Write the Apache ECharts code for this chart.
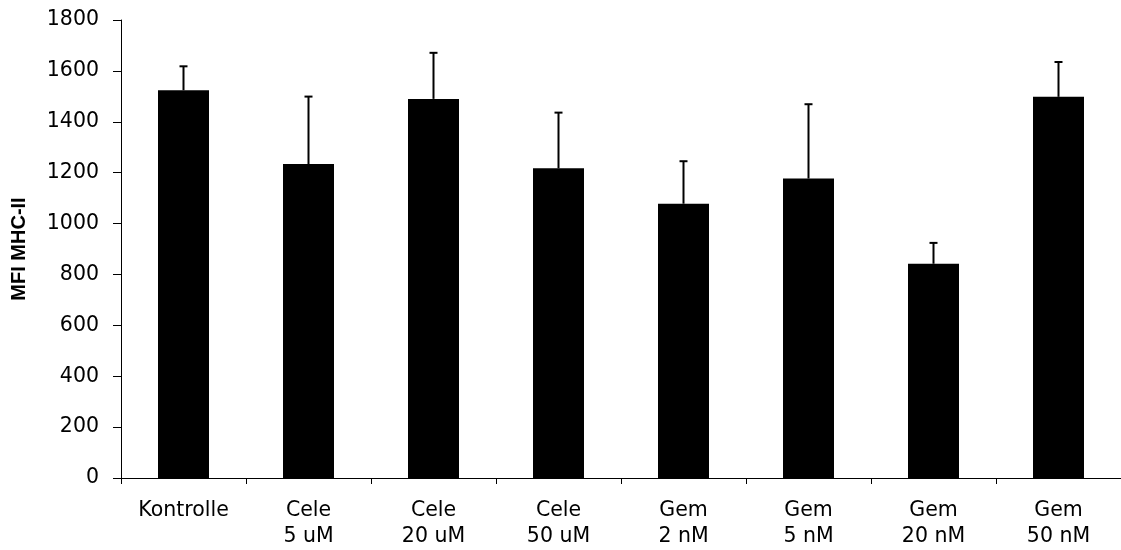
<!DOCTYPE html>
<html>
<head>
<meta charset="utf-8">
<title>MFI MHC-II</title>
<script src="https://cdn.jsdelivr.net/npm/echarts@6/dist/echarts.min.js"></script>
<style>
  html, body { margin: 0; padding: 0; background: #fff; }
  #chart { width: 1121px; height: 550px; }
</style>
</head>
<body>
<div id="chart"></div>
<script>
// Treatment groups (two-line axis labels)
const categories = [
  'Kontrolle',
  'Cele\n5 uM', 'Cele\n20 uM', 'Cele\n50 uM',
  'Gem\n2 nM', 'Gem\n5 nM', 'Gem\n20 nM', 'Gem\n50 nM'
];
// Mean fluorescence intensity per group
const meanValues = [1524, 1234, 1490, 1217, 1078, 1177, 842, 1498];
// Upper error (SD) per group
const errorValues = [94, 265, 181, 219, 167, 292, 82, 137];
// Y-axis range
const yMin = 0;
const yMax = 1800;
const yStep = 200;

const labelFont = 'DejaVu Sans';
const chart = echarts.init(document.getElementById('chart'), null, { renderer: 'canvas' });

const errorData = meanValues.map((v, i) => [i, v, v + errorValues[i]]);

chart.setOption({
  animation: false,
  backgroundColor: '#ffffff',
  grid: {
    left: 121, right: 0, top: 20, bottom: 72,
    containLabel: false,
    outerBoundsMode: 'none'
  },
  xAxis: {
    type: 'category',
    data: categories,
    boundaryGap: true,
    axisLine: { show: true, lineStyle: { color: '#000', width: 1 } },
    axisTick: { show: true, length: 6, lineStyle: { color: '#000', width: 1 } },
    axisLabel: {
      interval: 0,
      margin: 20,
      color: '#000',
      fontFamily: labelFont,
      fontSize: 20.5,
      lineHeight: 26,
      align: 'center'
    },
    splitLine: { show: false }
  },
  yAxis: {
    type: 'value',
    min: yMin,
    max: yMax,
    interval: yStep,
    name: 'MFI MHC-II',
    nameLocation: 'middle',
    nameRotate: 90,
    nameGap: 92,
    nameTextStyle: {
      color: '#000',
      fontFamily: 'Liberation Sans',
      fontWeight: 'bold',
      fontSize: 20
    },
    axisLine: { show: true, lineStyle: { color: '#000', width: 1 } },
    axisTick: { show: true, length: 8, lineStyle: { color: '#000', width: 1 } },
    axisLabel: {
      margin: 22,
      color: '#000',
      fontFamily: labelFont,
      fontSize: 20.5,
      formatter: function (v) { return String(v); }
    },
    splitLine: { show: false }
  },
  series: [
    {
      name: 'MFI',
      type: 'bar',
      data: meanValues,
      barWidth: 51,
      itemStyle: { color: '#000' },
      z: 2
    },
    {
      name: 'SD',
      type: 'custom',
      data: errorData,
      z: 3,
      renderItem: function (params, api) {
        const base = api.coord([api.value(0), api.value(1)]);
        const top = api.coord([api.value(0), api.value(2)]);
        const half = 4;
        const style = { stroke: '#000', lineWidth: 2 };
        return {
          type: 'group',
          children: [
            { type: 'line', shape: { x1: base[0], y1: base[1], x2: top[0], y2: top[1] }, style: style },
            { type: 'line', shape: { x1: top[0] - half, y1: top[1], x2: top[0] + half, y2: top[1] }, style: style }
          ]
        };
      }
    }
  ]
});
</script>
</body>
</html>
